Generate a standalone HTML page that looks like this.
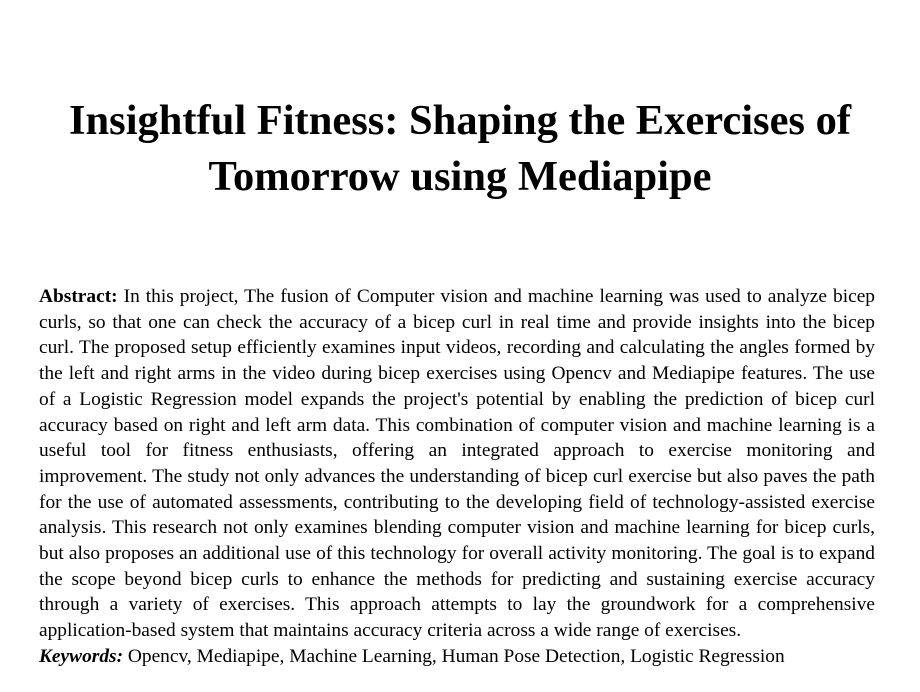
<!DOCTYPE html>
<html>
<head>
<meta charset="utf-8">
<style>
  html,body{margin:0;padding:0;background:#fff;}
  body{width:920px;height:692px;overflow:hidden;position:relative;font-family:"Liberation Serif","Times New Roman",serif;color:#000;}
  .title{position:absolute;left:0;width:920px;top:93px;text-align:center;font-weight:bold;font-size:42.5px;line-height:56px;}
  .abs{position:absolute;left:39px;width:836px;top:284px;font-size:19.4px;line-height:25.7px;}
  .abs .l{display:block;white-space:nowrap;text-align:justify;text-align-last:justify;}
  .abs .e{text-align:left;text-align-last:left;}
</style>
</head>
<body>
<div class="title">Insightful Fitness: Shaping the Exercises of<br>Tomorrow using Mediapipe</div>
<div class="abs">
<span class="l"><b>Abstract:</b> In this project, The fusion of Computer vision and machine learning was used to analyze bicep</span>
<span class="l">curls, so that one can check the accuracy of a bicep curl in real time and provide insights into the bicep</span>
<span class="l">curl. The proposed setup efficiently examines input videos, recording and calculating the angles formed by</span>
<span class="l">the left and right arms in the video during bicep exercises using Opencv and Mediapipe features. The use</span>
<span class="l">of a Logistic Regression model expands the project's potential by enabling the prediction of bicep curl</span>
<span class="l">accuracy based on right and left arm data. This combination of computer vision and machine learning is a</span>
<span class="l">useful tool for fitness enthusiasts, offering an integrated approach to exercise monitoring and</span>
<span class="l">improvement. The study not only advances the understanding of bicep curl exercise but also paves the path</span>
<span class="l">for the use of automated assessments, contributing to the developing field of technology-assisted exercise</span>
<span class="l">analysis. This research not only examines blending computer vision and machine learning for bicep curls,</span>
<span class="l">but also proposes an additional use of this technology for overall activity monitoring. The goal is to expand</span>
<span class="l">the scope beyond bicep curls to enhance the methods for predicting and sustaining exercise accuracy</span>
<span class="l">through a variety of exercises. This approach attempts to lay the groundwork for a comprehensive</span>
<span class="l e">application-based system that maintains accuracy criteria across a wide range of exercises.</span>
<span class="l e"><b><i>Keywords:</i></b> Opencv, Mediapipe, Machine Learning, Human Pose Detection, Logistic Regression</span>
</div>
</body>
</html>
